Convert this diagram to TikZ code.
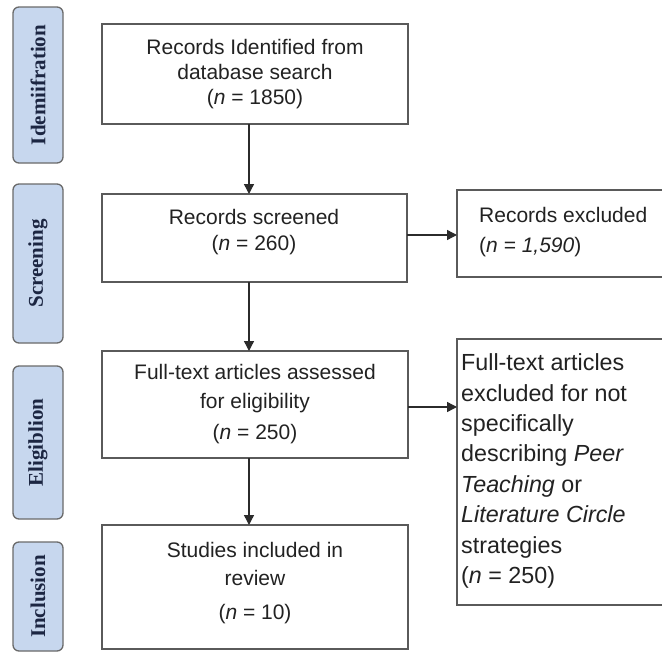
\documentclass[tikz,border=0pt]{standalone}
\usepackage{fontspec}
\setmainfont{Liberation Sans}
\newfontfamily\phasefont{Liberation Serif}
\usetikzlibrary{arrows.meta,calc}
\definecolor{phasefill}{HTML}{C7D7EE}
\definecolor{phaseline}{HTML}{6A6A6A}
\definecolor{phasetext}{HTML}{1C2642}
\definecolor{boxline}{HTML}{5A5A5A}
\definecolor{arrowcol}{HTML}{2B2B2B}
\definecolor{txt}{HTML}{222222}
\begin{document}
\begin{tikzpicture}[x=1pt,y=-1pt,
  phase/.style={draw=phaseline, fill=phasefill, line width=1.3pt, rounded corners=6pt, minimum width=50pt, inner sep=0pt, outer sep=0pt},
  phaselabel/.style={rotate=90, text=phasetext, inner sep=0pt, font=\phasefont\bfseries\fontsize{21}{24}\selectfont},
  box/.style={draw=boxline, line width=1.4pt, inner sep=0pt, outer sep=0pt},
  boxtext/.style={align=center, text=txt, inner sep=0pt, font=\fontsize{21}{25}\selectfont},
  sidetext/.style={align=left, text=txt, inner sep=0pt, anchor=west},
  arr/.style={draw=arrowcol, line width=1.4pt, -{Triangle[length=10pt,width=10pt]}}]
\useasboundingbox (0,0) rectangle (662,653);
\clip (0,0) rectangle (662,653);
\fill[white] (0,0) rectangle (662,653);

% phase labels
\node[phase, minimum height=156pt] (p1) at (38,85) {};
\node[phaselabel] (p1t) at (p1) {Idemiifration};
\node[phase, minimum height=159pt] (p2) at (38,263.5) {};
\node[phaselabel] (p2t) at (p2) {Screening};
\node[phase, minimum height=153pt] (p3) at (38,442.5) {};
\node[phaselabel] (p3t) at (p3) {Eligiblion};
\node[phase, minimum height=109pt] (p4) at (38,596.5) {};
\node[phaselabel] (p4t) at (p4) {Inclusion};

% main boxes
\node[box, minimum width=306pt, minimum height=100pt] (A) at (255,74) {};
\node[boxtext] (At) at (255,74.5) {Records Identified from\\database search\\(\textit{n} = 1850)};
\node[box, minimum width=305pt, minimum height=88pt] (B) at (254.5,238) {};
\node[boxtext] (Bt) at (254,232.5) {Records screened\\[1pt](\textit{n} = 260)};
\node[box, minimum width=306pt, minimum height=107pt] (C) at (255,404.5) {};
\node[boxtext] (Ct) at (255,404.5) {Full-text articles assessed\\[4pt]for eligibility\\[6pt](\textit{n} = 250)};
\node[box, minimum width=306pt, minimum height=124pt] (D) at (255,587) {};
\node[boxtext] (Dt) at (255,583) {Studies included in\\[3pt]review\\[9pt](\textit{n} = 10)};

% exclusion boxes
\node[box, minimum width=243pt, minimum height=87pt] (E) at (578.5,233.5) {};
\node[sidetext, font=\fontsize{21}{30}\selectfont] (Et) at (479,232) {Records excluded\\(\textit{n = 1,590})};
\node[box, minimum width=243pt, minimum height=266pt] (F) at (578.5,472) {};
\node[sidetext, font=\fontsize{23.3}{30.4}\selectfont] (Ft) at (461,471) {Full-text articles\\excluded for not\\specifically\\describing \textit{Peer}\\\textit{Teaching} or\\\textit{Literature Circle}\\strategies\\(\textit{n} = 250)};

% connectors
\coordinate (vx) at (249,0);
\coordinate (hy1) at (0,235);
\coordinate (hy2) at (0,407);
\draw[arr] (A.south -| vx) -- (B.north -| vx);
\draw[arr] (B.south -| vx) -- (C.north -| vx);
\draw[arr] (C.south -| vx) -- (D.north -| vx);
\draw[arr] (B.east |- hy1) -- (E.west |- hy1);
\draw[arr] (C.east |- hy2) -- (F.west |- hy2);
\end{tikzpicture}
\end{document}
